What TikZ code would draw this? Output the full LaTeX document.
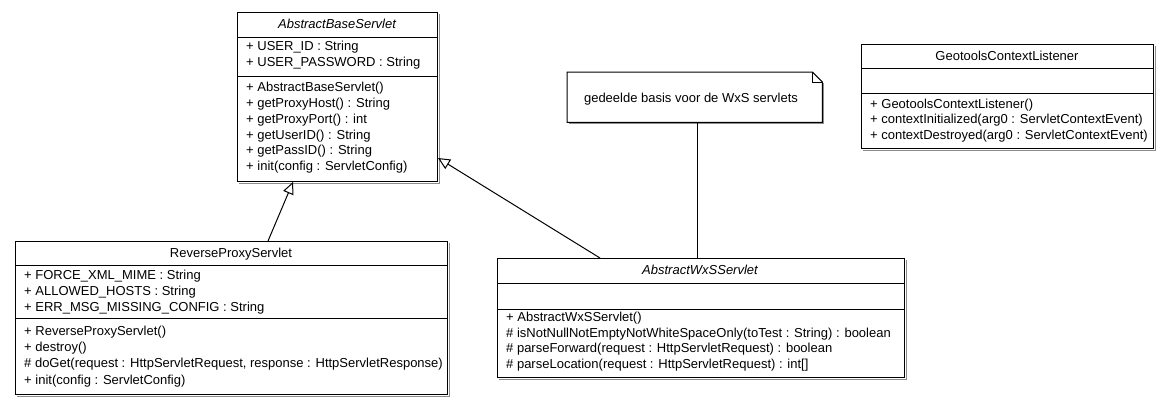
\documentclass[tikz,border=0pt]{standalone}
\usepackage{fontspec}
\setmainfont{Liberation Sans}
\usetikzlibrary{arrows.meta,calc}
\begin{document}
\begin{tikzpicture}[x=1pt,y=-1pt,
  font=\fontsize{13}{15}\selectfont,
  cls/.style={draw, line width=1pt, inner sep=0pt, anchor=north west, fill=white},
  mem/.style={anchor=west, inner sep=0pt, text height=9.3pt, text depth=0pt},
  title/.style={anchor=center, inner sep=0pt, text height=9.3pt, text depth=0pt},
  sep/.style={line width=1pt},
  shd/.style={draw=black!45, line width=1pt},
  gen/.style={line width=1pt, -{Triangle[open, length=12pt, width=11pt, fill=white]}},
  assoc/.style={line width=1pt}]
\useasboundingbox (0,0) rectangle (1173,405);
\fill[white] (0,0) rectangle (1173,405);

% ---------- AbstractBaseServlet ----------
\node[cls, minimum width=200pt, minimum height=169pt] (abs) at (237,12) {};
\draw[shd] ([xshift=1pt,yshift=-2pt]abs.north east) -- ([xshift=1pt,yshift=-1pt]abs.south east) -- ([xshift=2pt,yshift=-1pt]abs.south west);
\node[title] (absT) at (337,24) {\itshape AbstractBaseServlet};
\draw[sep] (abs.west |- 0,37) -- (abs.east |- 0,37);
\draw[sep] (abs.west |- 0,76) -- (abs.east |- 0,76);
\node[mem] (absA1) at (246,46) {+ USER\_ID : String};
\node[mem] (absA2) at (246,62) {+ USER\_PASSWORD : String};
\node[mem] (absM1) at (246,87) {+ AbstractBaseServlet()};
\node[mem] (absM2) at (246,102.8) {+ getProxyHost() : String};
\node[mem] (absM3) at (246,118.6) {+ getProxyPort() : int};
\node[mem] (absM4) at (246,134.4) {+ getUserID() : String};
\node[mem] (absM5) at (246,150.2) {+ getPassID() : String};
\node[mem] (absM6) at (246,166) {+ init(config : ServletConfig)};

% ---------- ReverseProxyServlet ----------
\node[cls, minimum width=432pt, minimum height=153pt] (rps) at (15,241) {};
\draw[shd] ([xshift=1pt,yshift=-2pt]rps.north east) -- ([xshift=1pt,yshift=-1pt]rps.south east) -- ([xshift=2pt,yshift=-1pt]rps.south west);
\node[title] (rpsT) at (231,253) {ReverseProxyServlet};
\draw[sep] (rps.west |- 0,265) -- (rps.east |- 0,265);
\draw[sep] (rps.west |- 0,318) -- (rps.east |- 0,318);
\node[mem] (rpsA1) at (24,275) {+ FORCE\_XML\_MIME : String};
\node[mem] (rpsA2) at (24,291) {+ ALLOWED\_HOSTS : String};
\node[mem] (rpsA3) at (24,307) {+ ERR\_MSG\_MISSING\_CONFIG : String};
\node[mem] (rpsM1) at (24,331) {+ ReverseProxyServlet()};
\node[mem] (rpsM2) at (24,347) {+ destroy()};
\node[mem] (rpsM3) at (24,363) {\# doGet(request : HttpServletRequest, response : HttpServletResponse)};
\node[mem] (rpsM4) at (24,379.5) {+ init(config : ServletConfig)};

% ---------- AbstractWxSServlet ----------
\node[cls, minimum width=407pt, minimum height=119pt] (wxs) at (497,258) {};
\draw[shd] ([xshift=1pt,yshift=-2pt]wxs.north east) -- ([xshift=1pt,yshift=-1pt]wxs.south east) -- ([xshift=2pt,yshift=-1pt]wxs.south west);
\node[title] (wxsT) at (700,270) {\itshape AbstractWxSServlet};
\draw[sep] (wxs.west |- 0,283) -- (wxs.east |- 0,283);
\draw[sep] (wxs.west |- 0,309) -- (wxs.east |- 0,309);
\node[mem] (wxsM1) at (506,317) {+ AbstractWxSServlet()};
\node[mem] (wxsM2) at (506,332.7) {\# isNotNullNotEmptyNotWhiteSpaceOnly(toTest : String) : boolean};
\node[mem] (wxsM3) at (506,348.3) {\# parseForward(request : HttpServletRequest) : boolean};
\node[mem] (wxsM4) at (506,364) {\# parseLocation(request : HttpServletRequest) : int[]};

% ---------- GeotoolsContextListener ----------
\node[cls, minimum width=292pt, minimum height=104pt] (geo) at (861,44) {};
\draw[shd] ([xshift=1pt,yshift=-2pt]geo.north east) -- ([xshift=1pt,yshift=-1pt]geo.south east) -- ([xshift=2pt,yshift=-1pt]geo.south west);
\node[title] (geoT) at (1007,56) {GeotoolsContextListener};
\draw[sep] (geo.west |- 0,68) -- (geo.east |- 0,68);
\draw[sep] (geo.west |- 0,93) -- (geo.east |- 0,93);
\node[mem] (geoM1) at (870,103.5) {+ GeotoolsContextListener()};
\node[mem] (geoM2) at (870,119.3) {+ contextInitialized(arg0 : ServletContextEvent)};
\node[mem] (geoM3) at (870,135) {+ contextDestroyed(arg0 : ServletContextEvent)};

% ---------- Note ----------
\node[inner sep=0pt, minimum width=255pt, minimum height=50pt, anchor=north west] (note) at (567,72) {};
\draw[line width=1pt, fill=white] (note.north west) -- ([xshift=-10pt]note.north east) -- ([yshift=-10pt]note.north east) -- (note.south east) -- (note.south west) -- cycle;
\draw[line width=1pt] ([xshift=-10pt]note.north east) -- ([xshift=-10pt,yshift=-10pt]note.north east) -- ([yshift=-10pt]note.north east);
\draw[shd] ([xshift=1pt,yshift=-11pt]note.north east) -- ([xshift=1pt,yshift=-1pt]note.south east) -- ([xshift=2pt,yshift=-1pt]note.south west);
\node[title] (noteT) at (691,98) {gedeelde basis voor de WxS servlets};

% ---------- Connectors ----------
\draw[gen] ($(rps.north west)+(253,0)$) -- ($(abs.south west)+(56,0)$);
\draw[gen] ($(wxs.north west)+(103,0)$) -- ($(abs.north east)+(0,146)$);
\draw[assoc] (note.south -| 697,0) -- (wxs.north -| 697,0);
\end{tikzpicture}
\end{document}
